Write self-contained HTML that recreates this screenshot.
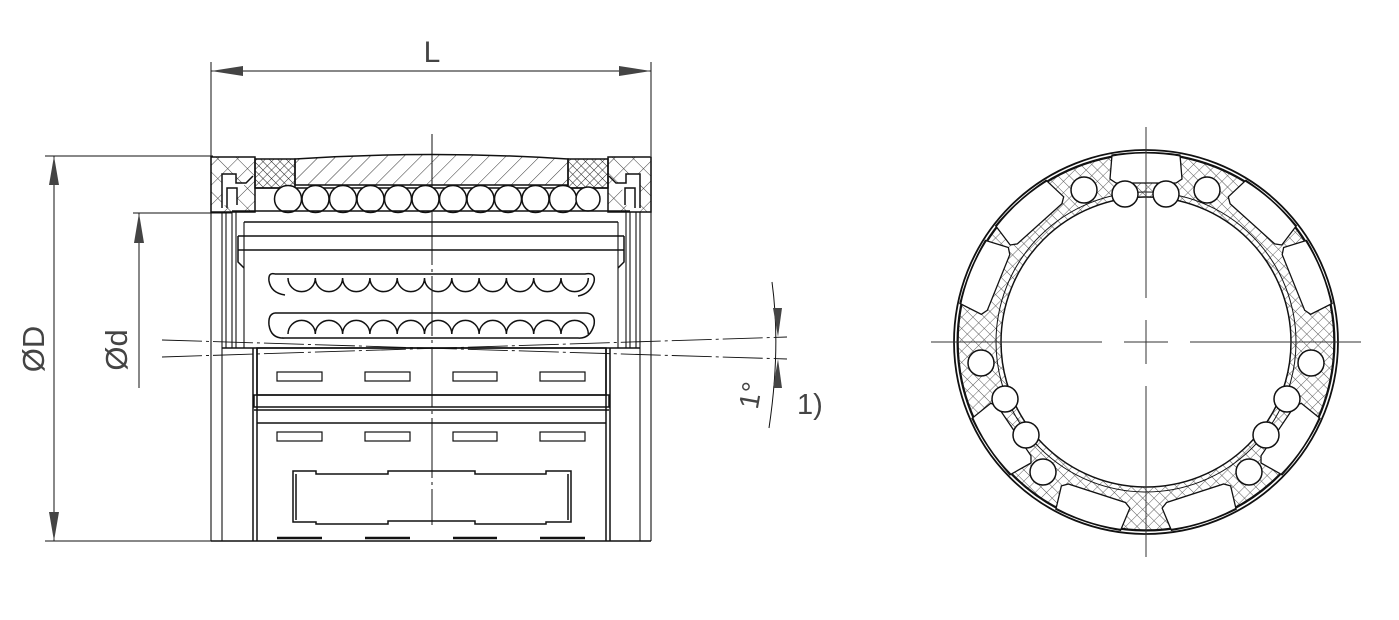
<!DOCTYPE html>
<html><head><meta charset="utf-8"><style>
html,body{margin:0;padding:0;background:#fff;}
svg{display:block;}
text{font-family:"Liberation Sans",sans-serif;fill:#444;}
</style></head><body>
<svg width="1399" height="620" viewBox="0 0 1399 620" xmlns="http://www.w3.org/2000/svg">
<defs>
<pattern id="cx" width="14" height="14" patternUnits="userSpaceOnUse" patternTransform="rotate(45)">
<path d="M0,0H14M0,0V14" stroke="#444" stroke-width="1"/></pattern>
<pattern id="fx" width="6" height="6" patternUnits="userSpaceOnUse" patternTransform="rotate(45)">
<path d="M0,0H6M0,0V6" stroke="#222" stroke-width="0.9"/></pattern>
<pattern id="dh" width="12" height="12" patternUnits="userSpaceOnUse" patternTransform="rotate(45)">
<path d="M0,0V12" stroke="#333" stroke-width="1"/></pattern>
<pattern id="rx" width="8" height="8" patternUnits="userSpaceOnUse" patternTransform="rotate(45)">
<path d="M0,0H8M0,0V8" stroke="#555" stroke-width="0.9"/></pattern>
</defs>

<g stroke="#111" fill="none" stroke-width="1.5">
<!-- dimension L -->
<line x1="211" y1="62" x2="211" y2="156" stroke-width="1"/>
<line x1="651" y1="62" x2="651" y2="156" stroke-width="1"/>
<line x1="211" y1="71" x2="651" y2="71" stroke-width="1"/>
<polygon points="211,71 243,66 243,76" fill="#444" stroke="none"/>
<polygon points="651,71 619,66 619,76" fill="#444" stroke="none"/>
<!-- ØD -->
<line x1="45" y1="156" x2="213" y2="156" stroke-width="1"/>
<line x1="45" y1="541" x2="213" y2="541" stroke-width="1"/>
<line x1="54" y1="156" x2="54" y2="541" stroke-width="1"/>
<polygon points="54,156 49,185 59,185" fill="#444" stroke="none"/>
<polygon points="54,541 49,512 59,512" fill="#444" stroke="none"/>
<!-- Ød -->
<line x1="133" y1="213" x2="232" y2="213" stroke-width="1"/>
<line x1="139" y1="213" x2="139" y2="388" stroke-width="1"/>
<polygon points="139,213 134,243 144,243" fill="#444" stroke="none"/>

<!-- centerline -->
<line x1="432" y1="134" x2="432" y2="525" stroke-width="1" stroke-dasharray="60,4,3,4"/>

<!-- end caps -->
<rect x="211" y="157" width="44" height="55" fill="url(#cx)"/>
<rect x="608" y="157" width="43" height="55" fill="url(#cx)"/>
<path d="M222,208V174H236V183L246,183L253,176" fill="#fff"/>
<path d="M227,208V188H237V205" fill="#fff"/>
<path d="M640,208V174H626V183L616,183L609,176" fill="#fff"/>
<path d="M635,208V188H625V205" fill="#fff"/>
<!-- seals -->
<rect x="255" y="159" width="40" height="29" fill="url(#fx)"/>
<rect x="568" y="159" width="40" height="29" fill="url(#fx)"/>
<!-- sleeve -->
<path d="M295,159Q432,150 568,159V185H295Z" fill="url(#dh)"/>
<line x1="255" y1="188" x2="608" y2="188"/>
<!-- top balls -->
<g fill="#fff">
<circle cx="288" cy="199" r="13.5"/><circle cx="315.5" cy="199" r="13.5"/><circle cx="343" cy="199" r="13.5"/><circle cx="370.5" cy="199" r="13.5"/><circle cx="398" cy="199" r="13.5"/><circle cx="425.5" cy="199" r="13.5"/><circle cx="453" cy="199" r="13.5"/><circle cx="480.5" cy="199" r="13.5"/><circle cx="508" cy="199" r="13.5"/><circle cx="535.5" cy="199" r="13.5"/><circle cx="563" cy="199" r="13.5"/><circle cx="588" cy="199" r="12"/>
</g>
<line x1="232" y1="211" x2="630" y2="211"/>
<line x1="244" y1="222" x2="618" y2="222"/>
<line x1="238" y1="236" x2="624" y2="236"/>
<line x1="238" y1="250" x2="624" y2="250"/>
<path d="M238,236V262L244,268M624,236V262L618,268"/>
<!-- side verticals -->
<g stroke-width="1.1">
<line x1="211" y1="157" x2="211" y2="541"/><line x1="222" y1="212" x2="222" y2="541"/>
<line x1="226" y1="212" x2="226" y2="348"/><line x1="232" y1="212" x2="232" y2="348"/>
<line x1="236" y1="212" x2="236" y2="348"/><line x1="244" y1="222" x2="244" y2="348"/>
<line x1="651" y1="157" x2="651" y2="541"/><line x1="640" y1="212" x2="640" y2="541"/>
<line x1="636" y1="212" x2="636" y2="348"/><line x1="630" y1="212" x2="630" y2="348"/>
<line x1="626" y1="212" x2="626" y2="348"/><line x1="618" y1="222" x2="618" y2="348"/>
</g>
<!-- ball rows -->
<path d="M275,274Q268,272 269,281Q271,293 285,295M275,274H585Q596,272 594,282Q590,294 578,296"/>
<path d="M288,278a13.6,13.6 0 0 0 27.3,0a13.6,13.6 0 0 0 27.3,0a13.6,13.6 0 0 0 27.3,0a13.6,13.6 0 0 0 27.3,0a13.6,13.6 0 0 0 27.3,0a13.6,13.6 0 0 0 27.3,0a13.6,13.6 0 0 0 27.3,0a13.6,13.6 0 0 0 27.3,0a13.6,13.6 0 0 0 27.3,0a13.6,13.6 0 0 0 27.3,0a13.6,13.6 0 0 0 27.3,0"/>
<path d="M275,313Q268,314 269,325Q271,339 285,338M275,313H585Q596,313 594,325Q590,339 578,338H282"/>
<path d="M288,334a13.6,13.6 0 0 1 27.3,0a13.6,13.6 0 0 1 27.3,0a13.6,13.6 0 0 1 27.3,0a13.6,13.6 0 0 1 27.3,0a13.6,13.6 0 0 1 27.3,0a13.6,13.6 0 0 1 27.3,0a13.6,13.6 0 0 1 27.3,0a13.6,13.6 0 0 1 27.3,0a13.6,13.6 0 0 1 27.3,0a13.6,13.6 0 0 1 27.3,0a13.6,13.6 0 0 1 27.3,0"/>
<!-- 1 degree lines -->
<line x1="162" y1="357" x2="787" y2="337" stroke-width="0.9" stroke-dasharray="40,4,3,4"/>
<line x1="162" y1="340" x2="787" y2="359" stroke-width="0.9" stroke-dasharray="40,4,3,4"/>
<path d="M772,282Q781,348 769,428" stroke-width="1"/>
<polygon points="778,337 773,308 782,308" fill="#444" stroke="none"/>
<polygon points="778,359 773,388 782,388" fill="#444" stroke="none"/>

<!-- lower section -->
<line x1="222" y1="348" x2="640" y2="348"/>
<path d="M253,348V541M257,348V541M610,348V541M606,348V541"/>
<rect x="257" y="348" width="349" height="47"/>
<rect x="254" y="395" width="355" height="12"/>
<line x1="254" y1="410" x2="609" y2="410"/>
<line x1="257" y1="423" x2="606" y2="423"/>
<g stroke-width="1.2">
<rect x="277" y="372" width="45" height="9"/><rect x="365" y="372" width="45" height="9"/><rect x="453" y="372" width="44" height="9"/><rect x="540" y="372" width="45" height="9"/>
<rect x="277" y="432" width="45" height="9"/><rect x="365" y="432" width="45" height="9"/><rect x="453" y="432" width="44" height="9"/><rect x="540" y="432" width="45" height="9"/>
</g>
<path d="M293,471H316V474H388V471H475V474H546V471H571V522H546V524H475V521H388V524H316V522H293Z"/>
<line x1="296" y1="474" x2="296" y2="520"/><line x1="568" y1="474" x2="568" y2="520"/>
<g stroke-width="2.4"><line x1="277" y1="538" x2="322" y2="538"/><line x1="365" y1="538" x2="410" y2="538"/><line x1="453" y1="538" x2="497" y2="538"/><line x1="540" y1="538" x2="585" y2="538"/></g>
<line x1="211" y1="541" x2="651" y2="541"/>
</g>

<!-- right circle view -->
<g stroke="#111" fill="none" stroke-width="1.5">
<circle cx="1146" cy="342" r="188" fill="url(#rx)"/>
<g fill="#fff" stroke-width="1.3">
<g id="pk"><path d="M1112,155Q1146,150 1180,155L1182,179L1176,183H1116L1110,179Z"/></g>
<use href="#pk" transform="rotate(42 1146 342)"/>
<use href="#pk" transform="rotate(-42 1146 342)"/>
<use href="#pk" transform="rotate(68 1146 342)"/>
<use href="#pk" transform="rotate(-68 1146 342)"/>
<use href="#pk" transform="rotate(124 1146 342)"/>
<use href="#pk" transform="rotate(-124 1146 342)"/>
<use href="#pk" transform="rotate(162 1146 342)"/>
<use href="#pk" transform="rotate(-162 1146 342)"/>
</g>
<circle cx="1146" cy="342" r="145" fill="#fff"/>
<circle cx="1146" cy="342" r="150" stroke-width="1"/>
<g fill="#fff">
<circle cx="1084" cy="190" r="13"/><circle cx="1125" cy="194" r="13"/><circle cx="1166" cy="194" r="13"/><circle cx="1207" cy="190" r="13"/>
<circle cx="981" cy="363" r="13"/><circle cx="1005" cy="399" r="13"/><circle cx="1026" cy="435" r="13"/><circle cx="1043" cy="472" r="13"/>
<circle cx="1311" cy="363" r="13"/><circle cx="1287" cy="399" r="13"/><circle cx="1266" cy="435" r="13"/><circle cx="1249" cy="472" r="13"/>
</g>
<circle cx="1146" cy="342" r="192" stroke-width="1.8"/>
<circle cx="1146" cy="342" r="189" stroke-width="1"/>
</g>
<g stroke="#333" stroke-width="1">
<line x1="1146" y1="127" x2="1146" y2="298"/><line x1="1146" y1="320" x2="1146" y2="364"/><line x1="1146" y1="386" x2="1146" y2="557"/>
<line x1="931" y1="342" x2="1102" y2="342"/><line x1="1124" y1="342" x2="1168" y2="342"/><line x1="1190" y1="342" x2="1361" y2="342"/>
</g>

<!-- labels -->
<text x="432" y="62" font-size="30" text-anchor="middle">L</text>
<text transform="translate(44,349) rotate(-90)" font-size="31" text-anchor="middle">ØD</text>
<text transform="translate(127,350) rotate(-90)" font-size="31" text-anchor="middle">Ød</text>
<text transform="translate(760,397) rotate(-80)" font-size="28" text-anchor="middle">1°</text>
<text x="797" y="414" font-size="29">1)</text>
</svg>
</body></html>
